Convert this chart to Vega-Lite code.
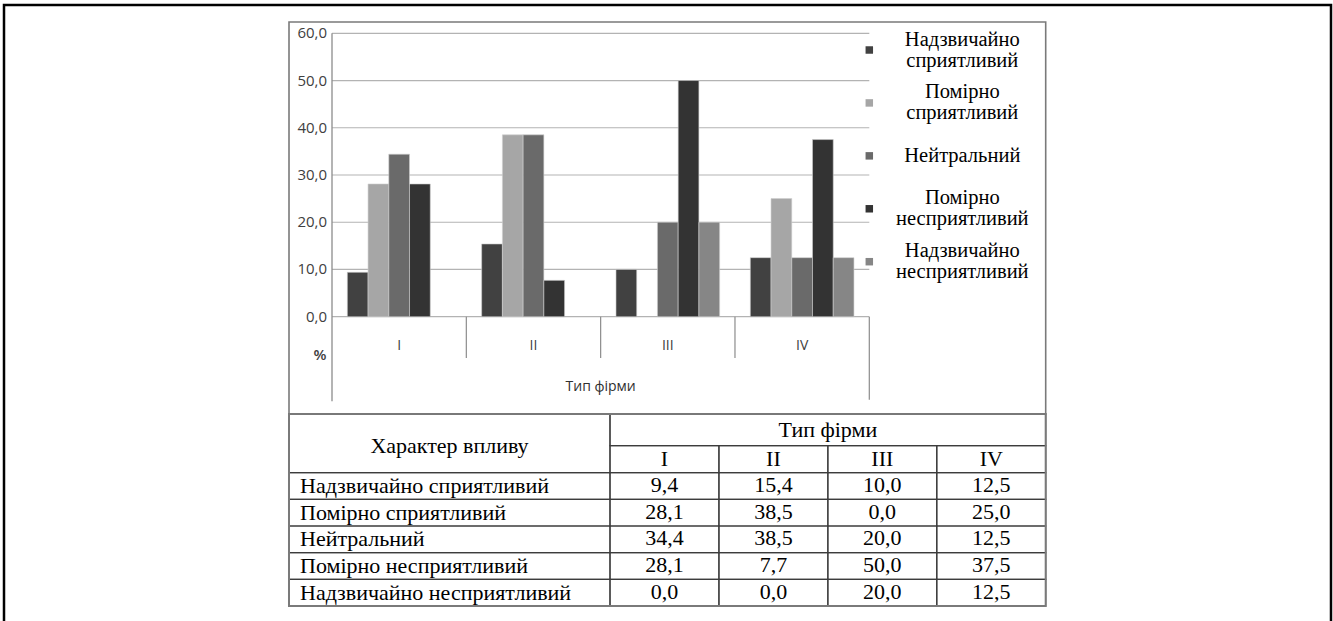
{
  "$schema": "https://vega.github.io/schema/vega-lite/v6.json",
  "width": 1327,
  "height": 620,
  "padding": {"left": 4, "top": 5, "right": 2, "bottom": 0},
  "autosize": {"type": "none"},
  "background": "white",
  "config": {
    "view": {"stroke": "#000000", "strokeWidth": 2.5},
    "locale": {"number": {"decimal": ",", "thousands": " ", "grouping": [3], "currency": ["", ""]}}
  },
  "datasets": {
    "bars": [
      {"firm": "I", "impact": "Надзвичайно сприятливий", "value": 9.4},
      {"firm": "I", "impact": "Помірно сприятливий", "value": 28.1},
      {"firm": "I", "impact": "Нейтральний", "value": 34.4},
      {"firm": "I", "impact": "Помірно несприятливий", "value": 28.1},
      {"firm": "I", "impact": "Надзвичайно несприятливий", "value": 0.0},
      {"firm": "II", "impact": "Надзвичайно сприятливий", "value": 15.4},
      {"firm": "II", "impact": "Помірно сприятливий", "value": 38.5},
      {"firm": "II", "impact": "Нейтральний", "value": 38.5},
      {"firm": "II", "impact": "Помірно несприятливий", "value": 7.7},
      {"firm": "II", "impact": "Надзвичайно несприятливий", "value": 0.0},
      {"firm": "III", "impact": "Надзвичайно сприятливий", "value": 10.0},
      {"firm": "III", "impact": "Помірно сприятливий", "value": 0.0},
      {"firm": "III", "impact": "Нейтральний", "value": 20.0},
      {"firm": "III", "impact": "Помірно несприятливий", "value": 50.0},
      {"firm": "III", "impact": "Надзвичайно несприятливий", "value": 20.0},
      {"firm": "IV", "impact": "Надзвичайно сприятливий", "value": 12.5},
      {"firm": "IV", "impact": "Помірно сприятливий", "value": 25.0},
      {"firm": "IV", "impact": "Нейтральний", "value": 12.5},
      {"firm": "IV", "impact": "Помірно несприятливий", "value": 37.5},
      {"firm": "IV", "impact": "Надзвичайно несприятливий", "value": 12.5}
    ],
    "ticks": [{"tick": 0}, {"tick": 10}, {"tick": 20}, {"tick": 30}, {"tick": 40}, {"tick": 50}, {"tick": 60}],
    "one": [{}]
  },
  "resolve": {"scale": {"x": "independent", "y": "independent"}},
  "layer": [
    {
      "data": {"name": "ticks"},
      "mark": {"type": "rule", "color": "#b3b3b3", "strokeWidth": 1.2},
      "encoding": {
        "x": {"datum": "I", "type": "nominal", "bandPosition": 0, "scale": {"type": "band", "domain": ["I", "II", "III", "IV"], "range": [328, 865.3], "paddingInner": 0, "paddingOuter": 0}, "axis": null},
        "x2": {"datum": "IV", "bandPosition": 1},
        "y": {"field": "tick", "type": "quantitative", "scale": {"type": "linear", "domain": [0, 60], "range": [311.7, 28.3], "nice": false, "zero": false}, "axis": null}
      }
    },
    {
      "data": {"name": "one"},
      "mark": {"type": "rule", "color": "#8c8c8c", "strokeWidth": 1.3},
      "encoding": {
        "x": {"datum": "I", "type": "nominal", "bandPosition": 0, "scale": {"type": "band", "domain": ["I", "II", "III", "IV"], "range": [328, 865.3], "paddingInner": 0, "paddingOuter": 0}, "axis": null},
        "y": {"datum": 60, "type": "quantitative", "scale": {"type": "linear", "domain": [0, 60], "range": [311.7, 28.3], "nice": false, "zero": false}, "axis": null},
        "y2": {"datum": -17.9}
      }
    },
    {
      "data": {"name": "bars"},
      "transform": [{"filter": "datum.impact == 'Надзвичайно сприятливий' && datum.firm != 'I'"}],
      "mark": {"type": "rule", "color": "#8c8c8c", "strokeWidth": 1.2},
      "encoding": {
        "x": {"field": "firm", "type": "nominal", "bandPosition": 0, "scale": {"type": "band", "domain": ["I", "II", "III", "IV"], "range": [328, 865.3], "paddingInner": 0, "paddingOuter": 0}, "axis": null},
        "y": {"datum": 0, "type": "quantitative", "scale": {"type": "linear", "domain": [0, 60], "range": [311.7, 28.3], "nice": false, "zero": false}, "axis": null},
        "y2": {"datum": -8.74}
      }
    },
    {
      "data": {"name": "one"},
      "mark": {"type": "rule", "color": "#8c8c8c", "strokeWidth": 1.2},
      "encoding": {
        "x": {"datum": "IV", "type": "nominal", "bandPosition": 1, "scale": {"type": "band", "domain": ["I", "II", "III", "IV"], "range": [328, 865.3], "paddingInner": 0, "paddingOuter": 0}, "axis": null},
        "y": {"datum": 0, "type": "quantitative", "scale": {"type": "linear", "domain": [0, 60], "range": [311.7, 28.3], "nice": false, "zero": false}, "axis": null},
        "y2": {"datum": -17.6}
      }
    },
    {
      "data": {"name": "bars"},
      "transform": [{"filter": "datum.value > 0"}],
      "mark": {"type": "bar", "stroke": "#cfcfcf", "strokeWidth": 0.6},
      "encoding": {
        "x": {"field": "firm", "type": "nominal", "scale": {"type": "band", "domain": ["I", "II", "III", "IV"], "range": [328, 865.3], "paddingInner": 0, "paddingOuter": 0}, "axis": null},
        "xOffset": {"field": "impact", "type": "nominal", "scale": {"domain": ["Надзвичайно сприятливий", "Помірно сприятливий", "Нейтральний", "Помірно несприятливий", "Надзвичайно несприятливий"], "paddingInner": 0, "paddingOuter": 0.74}},
        "y": {"field": "value", "type": "quantitative", "scale": {"type": "linear", "domain": [0, 60], "range": [311.7, 28.3], "nice": false, "zero": false}, "axis": null},
        "y2": {"datum": 0},
        "color": {"field": "impact", "type": "nominal", "scale": {"domain": ["Надзвичайно сприятливий", "Помірно сприятливий", "Нейтральний", "Помірно несприятливий", "Надзвичайно несприятливий"], "range": ["#414141", "#a6a6a6", "#6a6a6a", "#333333", "#868686"]}, "legend": null}
      }
    },
    {
      "data": {"name": "ticks"},
      "mark": {"type": "text", "font": "Open Sans", "fontSize": 15, "color": "#404040", "align": "right", "baseline": "middle", "dx": -5},
      "encoding": {
        "x": {"datum": "I", "type": "nominal", "bandPosition": 0, "scale": {"type": "band", "domain": ["I", "II", "III", "IV"], "range": [328, 865.3], "paddingInner": 0, "paddingOuter": 0}, "axis": null},
        "y": {"field": "tick", "type": "quantitative", "scale": {"type": "linear", "domain": [0, 60], "range": [311.7, 28.3], "nice": false, "zero": false}, "axis": null},
        "text": {"field": "tick", "type": "quantitative", "format": ".1f"}
      }
    },
    {
      "data": {"name": "bars"},
      "transform": [{"filter": "datum.impact == 'Надзвичайно сприятливий'"}],
      "mark": {"type": "text", "font": "Open Sans", "fontSize": 14, "color": "#404040", "align": "center", "baseline": "middle"},
      "encoding": {
        "x": {"field": "firm", "type": "nominal", "scale": {"type": "band", "domain": ["I", "II", "III", "IV"], "range": [328, 865.3], "paddingInner": 0, "paddingOuter": 0}, "axis": null},
        "y": {"datum": -6.2, "type": "quantitative", "scale": {"type": "linear", "domain": [0, 60], "range": [311.7, 28.3], "nice": false, "zero": false}, "axis": null},
        "text": {"field": "firm", "type": "nominal"}
      }
    },
    {
      "data": {"name": "one"},
      "mark": {"type": "text", "text": "%", "font": "Open Sans", "fontSize": 15, "fontWeight": 600, "color": "#404040", "align": "center", "baseline": "middle", "dx": -12},
      "encoding": {
        "x": {"datum": "I", "type": "nominal", "bandPosition": 0, "scale": {"type": "band", "domain": ["I", "II", "III", "IV"], "range": [328, 865.3], "paddingInner": 0, "paddingOuter": 0}, "axis": null},
        "y": {"datum": -8.2, "type": "quantitative", "scale": {"type": "linear", "domain": [0, 60], "range": [311.7, 28.3], "nice": false, "zero": false}, "axis": null}
      }
    },
    {
      "data": {"name": "one"},
      "mark": {"type": "text", "text": "Тип фірми", "font": "Open Sans", "fontSize": 14, "color": "#303030", "align": "center", "baseline": "middle"},
      "encoding": {
        "x": {"datum": "III", "type": "nominal", "bandPosition": 0, "scale": {"type": "band", "domain": ["I", "II", "III", "IV"], "range": [328, 865.3], "paddingInner": 0, "paddingOuter": 0}, "axis": null},
        "y": {"datum": -14.8, "type": "quantitative", "scale": {"type": "linear", "domain": [0, 60], "range": [311.7, 28.3], "nice": false, "zero": false}, "axis": null}
      }
    },
    {
      "data": {"name": "bars"},
      "transform": [{"filter": "datum.firm == 'I'"}],
      "mark": {"type": "point", "shape": "square", "filled": true, "size": 56, "opacity": 1, "dx": 11, "dy": -5},
      "encoding": {
        "x": {"datum": "IV", "type": "nominal", "bandPosition": 1, "scale": {"type": "band", "domain": ["I", "II", "III", "IV"], "range": [328, 865.3], "paddingInner": 0, "paddingOuter": 0}, "axis": null},
        "y": {"field": "impact", "type": "nominal", "scale": {"type": "point", "domain": ["Надзвичайно сприятливий", "Помірно сприятливий", "Нейтральний", "Помірно несприятливий", "Надзвичайно несприятливий"], "range": [45, 256.7], "padding": 0}, "axis": null},
        "color": {"field": "impact", "type": "nominal", "scale": {"domain": ["Надзвичайно сприятливий", "Помірно сприятливий", "Нейтральний", "Помірно несприятливий", "Надзвичайно несприятливий"], "range": ["#414141", "#a6a6a6", "#6a6a6a", "#333333", "#868686"]}, "legend": null}
      }
    },
    {
      "data": {"name": "bars"},
      "transform": [{"filter": "datum.firm == 'I' && datum.impact != 'Нейтральний'"}],
      "mark": {"type": "text", "font": "Liberation Serif", "fontSize": 20.5, "lineBreak": " ", "lineHeight": 21, "color": "#000000", "align": "center", "baseline": "middle", "dx": 93, "dy": -10.5},
      "encoding": {
        "x": {"datum": "IV", "type": "nominal", "bandPosition": 1, "scale": {"type": "band", "domain": ["I", "II", "III", "IV"], "range": [328, 865.3], "paddingInner": 0, "paddingOuter": 0}, "axis": null},
        "y": {"field": "impact", "type": "nominal", "scale": {"type": "point", "domain": ["Надзвичайно сприятливий", "Помірно сприятливий", "Нейтральний", "Помірно несприятливий", "Надзвичайно несприятливий"], "range": [45, 256.7], "padding": 0}, "axis": null},
        "text": {"field": "impact", "type": "nominal"}
      }
    },
    {
      "data": {"name": "bars"},
      "transform": [{"filter": "datum.firm == 'I' && datum.impact == 'Нейтральний'"}],
      "mark": {"type": "text", "font": "Liberation Serif", "fontSize": 20.5, "color": "#000000", "align": "center", "baseline": "middle", "dx": 93},
      "encoding": {
        "x": {"datum": "IV", "type": "nominal", "bandPosition": 1, "scale": {"type": "band", "domain": ["I", "II", "III", "IV"], "range": [328, 865.3], "paddingInner": 0, "paddingOuter": 0}, "axis": null},
        "y": {"field": "impact", "type": "nominal", "scale": {"type": "point", "domain": ["Надзвичайно сприятливий", "Помірно сприятливий", "Нейтральний", "Помірно несприятливий", "Надзвичайно несприятливий"], "range": [45, 256.7], "padding": 0}, "axis": null},
        "text": {"field": "impact", "type": "nominal"}
      }
    },
    {
      "data": {"name": "bars"},
      "mark": {"type": "rect", "fillOpacity": 0, "stroke": "#3c3c3c", "strokeWidth": 1.2},
      "encoding": {
        "x": {"field": "firm", "type": "nominal", "scale": {"type": "band", "domain": ["I", "II", "III", "IV"], "range": [606, 1041.7], "paddingInner": 0, "paddingOuter": 0}, "axis": null},
        "y": {"field": "impact", "type": "nominal", "scale": {"type": "band", "domain": ["Надзвичайно сприятливий", "Помірно сприятливий", "Нейтральний", "Помірно несприятливий", "Надзвичайно несприятливий"], "range": [467.7, 601], "paddingInner": 0, "paddingOuter": 0}, "axis": null}
      }
    },
    {
      "data": {"name": "bars"},
      "mark": {"type": "text", "font": "Liberation Serif", "fontSize": 22, "color": "#000000", "align": "center", "baseline": "middle", "dy": -1},
      "encoding": {
        "x": {"field": "firm", "type": "nominal", "scale": {"type": "band", "domain": ["I", "II", "III", "IV"], "range": [606, 1041.7], "paddingInner": 0, "paddingOuter": 0}, "axis": null},
        "y": {"field": "impact", "type": "nominal", "scale": {"type": "band", "domain": ["Надзвичайно сприятливий", "Помірно сприятливий", "Нейтральний", "Помірно несприятливий", "Надзвичайно несприятливий"], "range": [467.7, 601], "paddingInner": 0, "paddingOuter": 0}, "axis": null},
        "text": {"field": "value", "type": "quantitative", "format": ".1f"}
      }
    },
    {
      "data": {"name": "bars"},
      "transform": [{"filter": "datum.impact == 'Надзвичайно сприятливий'"}],
      "mark": {"type": "rect", "fillOpacity": 0, "stroke": "#3c3c3c", "strokeWidth": 1.2},
      "encoding": {
        "x": {"field": "firm", "type": "nominal", "scale": {"type": "band", "domain": ["I", "II", "III", "IV"], "range": [606, 1041.7], "paddingInner": 0, "paddingOuter": 0}, "axis": null},
        "y": {"datum": 1, "type": "quantitative", "scale": {"type": "linear", "domain": [-1, 0, 1, 2, 7], "range": [17, 409, 440.7, 467.7, 601], "nice": false, "zero": false}, "axis": null},
        "y2": {"datum": 2}
      }
    },
    {
      "data": {"name": "bars"},
      "transform": [{"filter": "datum.impact == 'Надзвичайно сприятливий'"}],
      "mark": {"type": "text", "font": "Liberation Serif", "fontSize": 22, "color": "#000000", "align": "center", "baseline": "middle"},
      "encoding": {
        "x": {"field": "firm", "type": "nominal", "scale": {"type": "band", "domain": ["I", "II", "III", "IV"], "range": [606, 1041.7], "paddingInner": 0, "paddingOuter": 0}, "axis": null},
        "y": {"datum": 1.5, "type": "quantitative", "scale": {"type": "linear", "domain": [-1, 0, 1, 2, 7], "range": [17, 409, 440.7, 467.7, 601], "nice": false, "zero": false}, "axis": null},
        "text": {"field": "firm", "type": "nominal"}
      }
    },
    {
      "data": {"name": "bars"},
      "transform": [{"filter": "datum.firm == 'I'"}],
      "mark": {"type": "rect", "fillOpacity": 0, "stroke": "#3c3c3c", "strokeWidth": 1.2},
      "encoding": {
        "x": {"datum": 0, "type": "quantitative", "scale": {"type": "linear", "domain": [0, 1, 5], "range": [285, 606, 1041.7], "nice": false, "zero": false}, "axis": null},
        "x2": {"datum": 1},
        "y": {"field": "impact", "type": "nominal", "scale": {"type": "band", "domain": ["Надзвичайно сприятливий", "Помірно сприятливий", "Нейтральний", "Помірно несприятливий", "Надзвичайно несприятливий"], "range": [467.7, 601], "paddingInner": 0, "paddingOuter": 0}, "axis": null}
      }
    },
    {
      "data": {"name": "bars"},
      "transform": [{"filter": "datum.firm == 'I'"}],
      "mark": {"type": "text", "font": "Liberation Serif", "fontSize": 22, "color": "#000000", "align": "left", "baseline": "middle", "dx": 11},
      "encoding": {
        "x": {"datum": 0, "type": "quantitative", "scale": {"type": "linear", "domain": [0, 1, 5], "range": [285, 606, 1041.7], "nice": false, "zero": false}, "axis": null},
        "y": {"field": "impact", "type": "nominal", "scale": {"type": "band", "domain": ["Надзвичайно сприятливий", "Помірно сприятливий", "Нейтральний", "Помірно несприятливий", "Надзвичайно несприятливий"], "range": [467.7, 601], "paddingInner": 0, "paddingOuter": 0}, "axis": null},
        "text": {"field": "impact", "type": "nominal"}
      }
    },
    {
      "data": {"name": "one"},
      "mark": {"type": "rect", "fillOpacity": 0, "stroke": "#3c3c3c", "strokeWidth": 1.2},
      "encoding": {
        "x": {"datum": 0, "type": "quantitative", "scale": {"type": "linear", "domain": [0, 1, 5], "range": [285, 606, 1041.7], "nice": false, "zero": false}, "axis": null},
        "x2": {"datum": 1},
        "y": {"datum": 0, "type": "quantitative", "scale": {"type": "linear", "domain": [-1, 0, 1, 2, 7], "range": [17, 409, 440.7, 467.7, 601], "nice": false, "zero": false}, "axis": null},
        "y2": {"datum": 2}
      }
    },
    {
      "data": {"name": "one"},
      "mark": {"type": "text", "text": "Характер впливу", "font": "Liberation Serif", "fontSize": 22, "color": "#000000", "align": "center", "baseline": "middle"},
      "encoding": {
        "x": {"datum": 0.5, "type": "quantitative", "scale": {"type": "linear", "domain": [0, 1, 5], "range": [285, 606, 1041.7], "nice": false, "zero": false}, "axis": null},
        "y": {"datum": 1, "type": "quantitative", "scale": {"type": "linear", "domain": [-1, 0, 1, 2, 7], "range": [17, 409, 440.7, 467.7, 601], "nice": false, "zero": false}, "axis": null}
      }
    },
    {
      "data": {"name": "one"},
      "mark": {"type": "rect", "fillOpacity": 0, "stroke": "#3c3c3c", "strokeWidth": 1.2},
      "encoding": {
        "x": {"datum": 1, "type": "quantitative", "scale": {"type": "linear", "domain": [0, 1, 5], "range": [285, 606, 1041.7], "nice": false, "zero": false}, "axis": null},
        "x2": {"datum": 5},
        "y": {"datum": 0, "type": "quantitative", "scale": {"type": "linear", "domain": [-1, 0, 1, 2, 7], "range": [17, 409, 440.7, 467.7, 601], "nice": false, "zero": false}, "axis": null},
        "y2": {"datum": 1}
      }
    },
    {
      "data": {"name": "one"},
      "mark": {"type": "text", "text": "Тип фірми", "font": "Liberation Serif", "fontSize": 22, "color": "#000000", "align": "center", "baseline": "middle"},
      "encoding": {
        "x": {"datum": 3, "type": "quantitative", "scale": {"type": "linear", "domain": [0, 1, 5], "range": [285, 606, 1041.7], "nice": false, "zero": false}, "axis": null},
        "y": {"datum": 0.5, "type": "quantitative", "scale": {"type": "linear", "domain": [-1, 0, 1, 2, 7], "range": [17, 409, 440.7, 467.7, 601], "nice": false, "zero": false}, "axis": null}
      }
    },
    {
      "data": {"name": "one"},
      "mark": {"type": "rect", "fillOpacity": 0, "stroke": "#7a7a7a", "strokeWidth": 2},
      "encoding": {
        "x": {"datum": 0, "type": "quantitative", "scale": {"type": "linear", "domain": [0, 1, 5], "range": [285, 606, 1041.7], "nice": false, "zero": false}, "axis": null},
        "x2": {"datum": 5},
        "y": {"datum": 0, "type": "quantitative", "scale": {"type": "linear", "domain": [-1, 0, 1, 2, 7], "range": [17, 409, 440.7, 467.7, 601], "nice": false, "zero": false}, "axis": null},
        "y2": {"datum": 7}
      }
    },
    {
      "data": {"name": "one"},
      "mark": {"type": "rect", "fillOpacity": 0, "stroke": "#7a7a7a", "strokeWidth": 1.6},
      "encoding": {
        "x": {"datum": 0, "type": "quantitative", "scale": {"type": "linear", "domain": [0, 1, 5], "range": [285, 606, 1041.7], "nice": false, "zero": false}, "axis": null},
        "x2": {"datum": 5},
        "y": {"datum": -1, "type": "quantitative", "scale": {"type": "linear", "domain": [-1, 0, 1, 2, 7], "range": [17, 409, 440.7, 467.7, 601], "nice": false, "zero": false}, "axis": null},
        "y2": {"datum": 0}
      }
    }
  ]
}
